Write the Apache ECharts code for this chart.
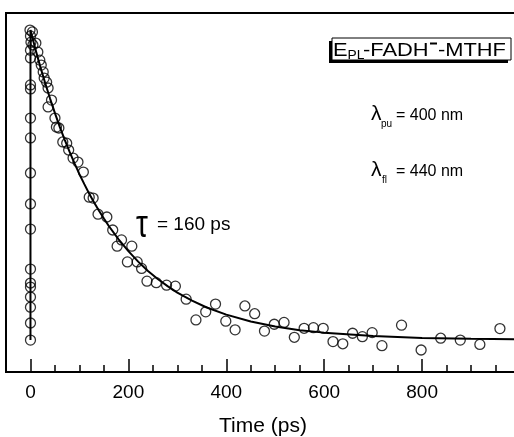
<!DOCTYPE html>
<html>
<head>
<meta charset="utf-8">
<script src="https://cdn.jsdelivr.net/npm/echarts@6/dist/echarts.min.js"></script>
<style>
	html, body { margin: 0; padding: 0; background: #fff; }
	#chart { width: 514px; height: 437px; }
</style>
</head>
<body>
<div id="chart"></div>
<script>
// measured points (ps, normalised signal)
let pointTime = [
	-1, 4, 0, 1, 5, 0,
	0, 0, 0, 0, 0, 0, 0, 0, 0, 0, 0, 0, 0, 0, 0,
	11, 15, 19, 22, 26, 28, 33, 36, 43, 36, 50, 53, 58, 66, 74, 78, 87, 97, 108,
	120, 128, 138, 156, 168, 177, 186, 198, 207, 218, 227, 238, 257, 278, 296,
	318, 338, 358, 378, 399, 418, 438, 458, 478, 498, 518, 539, 559, 578, 598,
	618, 638, 658, 678, 698, 718, 758, 798, 838, 878, 918, 959
]
let pointSignal = [
	1.0, 0.994, 0.981, 0.961, 0.952, 0.935,
	0.910, 0.823, 0.810, 0.716, 0.652, 0.539, 0.439, 0.358, 0.229, 0.184, 0.171, 0.139, 0.106, 0.055, 0.0,
	0.958, 0.929, 0.903, 0.887, 0.865, 0.845, 0.832, 0.813, 0.774, 0.752, 0.716, 0.687, 0.684, 0.639, 0.635, 0.613, 0.587, 0.574, 0.542,
	0.461, 0.458, 0.406, 0.397, 0.355, 0.303, 0.323, 0.252, 0.303, 0.252, 0.231, 0.190, 0.185, 0.177, 0.174,
	0.132, 0.065, 0.091, 0.116, 0.061, 0.033, 0.110, 0.085, 0.029, 0.051, 0.057, 0.009, 0.038, 0.040, 0.038,
	-0.005, -0.012, 0.022, 0.011, 0.024, -0.018, 0.048, -0.032, 0.006, 0.000, -0.014, 0.037
]

// fitted curve, tau = 160 ps
let fitTime = [0, 0, 10, 20, 30, 40, 50, 60, 70, 80, 90, 100, 110, 120, 130, 140, 150, 160, 180, 200,
	220, 240, 260, 280, 300, 330, 360, 400, 450, 500, 550, 600, 700, 800, 900, 1000]
let fitSignal = [0, 1.0, 0.939, 0.882, 0.829, 0.779, 0.732, 0.687, 0.646, 0.607, 0.570, 0.535, 0.503, 0.472, 0.444, 0.417, 0.392, 0.368, 0.325, 0.287,
	0.253, 0.223, 0.197, 0.174, 0.153, 0.127, 0.105, 0.082, 0.060, 0.044, 0.032, 0.024, 0.013, 0.007, 0.004, 0.002]

let majorTicks = [0, 200, 400, 600, 800]

let chart = echarts.init(document.getElementById('chart'))

let points = []
for (let i = 0; i < pointTime.length; i++) {
	points.push([pointTime[i], pointSignal[i]])
}
let fit = []
for (let i = 0; i < fitTime.length; i++) {
	fit.push([fitTime[i], fitSignal[i]])
}

let font = 'Liberation Sans, Arial, sans-serif'

let option = {
	animation: false,
	grid: {
		left: 6,
		right: -6,
		top: 13,
		bottom: 65,
		show: true,
		borderColor: '#000',
		borderWidth: 2,
		outerBoundsMode: 'none'
	},
	xAxis: [{
			type: 'value',
			min: -50,
			max: 1000,
			interval: 50,
			position: 'bottom',
			axisLine: {
				show: true,
				onZero: false,
				lineStyle: { color: '#000', width: 2 }
			},
			axisTick: {
				show: true,
				inside: true,
				length: 7,
				lineStyle: { color: '#000', width: 1.5 }
			},
			axisLabel: { show: false },
			splitLine: { show: false }
		},
		{
			type: 'value',
			min: -50,
			max: 1000,
			position: 'bottom',
			axisLine: { show: false, onZero: false },
			axisTick: {
				show: true,
				inside: true,
				length: 13,
				customValues: majorTicks,
				lineStyle: { color: '#000', width: 1.5 }
			},
			axisLabel: {
				customValues: majorTicks,
				color: '#000',
				fontSize: 19,
				fontFamily: font,
				margin: 11
			},
			splitLine: { show: false },
			name: 'Time (ps)',
			nameLocation: 'middle',
			nameGap: 44,
			nameTextStyle: {
				color: '#000',
				fontSize: 21,
				fontFamily: font
			}
		}
	],
	yAxis: {
		type: 'value',
		min: -0.103,
		max: 1.055,
		show: false
	},
	series: [{
			type: 'line',
			data: fit,
			symbol: 'none',
			lineStyle: { color: '#000', width: 2 },
			z: 2
		},
		{
			type: 'scatter',
			data: points,
			symbol: 'circle',
			symbolSize: 10,
			itemStyle: {
				color: 'rgba(0,0,0,0)',
				borderColor: '#000',
				borderWidth: 1.3
			},
			z: 3
		}
	],
	graphic: [
		// label box with shadow
		{ type: 'rect', shape: { x: 329, y: 41, width: 179, height: 22 }, style: { fill: '#000' } },
		{ type: 'rect', shape: { x: 332, y: 38, width: 179, height: 22 }, style: { fill: '#fff', stroke: '#000', lineWidth: 1 } },
		{ type: 'text', x: 333, y: 51, scaleX: 1.15, style: { text: 'E', font: '19px ' + font, fill: '#000', verticalAlign: 'middle' } },
		{ type: 'text', x: 347.6, y: 55.5, scaleX: 1.15, style: { text: 'PL', font: '12px ' + font, fill: '#000', verticalAlign: 'middle' } },
		{ type: 'text', x: 363, y: 51, scaleX: 1.15, style: { text: '-FADH', font: '19px ' + font, fill: '#000', verticalAlign: 'middle' } },
		{ type: 'rect', shape: { x: 430, y: 42.5, width: 7, height: 2 }, style: { fill: '#000' } },
		{ type: 'text', x: 438, y: 51, scaleX: 1.15, style: { text: '-MTHF', font: '19px ' + font, fill: '#000', verticalAlign: 'middle' } },

		// wavelengths
		{ type: 'text', x: 371, y: 114, style: { text: 'λ', font: '21px ' + font, fill: '#000', verticalAlign: 'middle' } },
		{ type: 'text', x: 381, y: 124, style: { text: 'pu', font: '10px ' + font, fill: '#000', verticalAlign: 'middle' } },
		{ type: 'text', x: 396, y: 116, style: { text: '= 400 nm', font: '16px ' + font, fill: '#000', verticalAlign: 'middle' } },
		{ type: 'text', x: 371, y: 170, style: { text: 'λ', font: '21px ' + font, fill: '#000', verticalAlign: 'middle' } },
		{ type: 'text', x: 382, y: 180, style: { text: 'fl', font: '10px ' + font, fill: '#000', verticalAlign: 'middle' } },
		{ type: 'text', x: 396, y: 172, style: { text: '= 440 nm', font: '16px ' + font, fill: '#000', verticalAlign: 'middle' } },

		// lifetime
		{ type: 'text', x: 136, y: 226, scaleY: 1.3, style: { text: 'τ', font: '30px ' + font, fill: '#000', verticalAlign: 'middle' } },
		{ type: 'text', x: 157, y: 225, style: { text: '= 160 ps', font: '19px ' + font, fill: '#000', verticalAlign: 'middle' } }
	]
}

chart.setOption(option)
</script>
</body>
</html>
